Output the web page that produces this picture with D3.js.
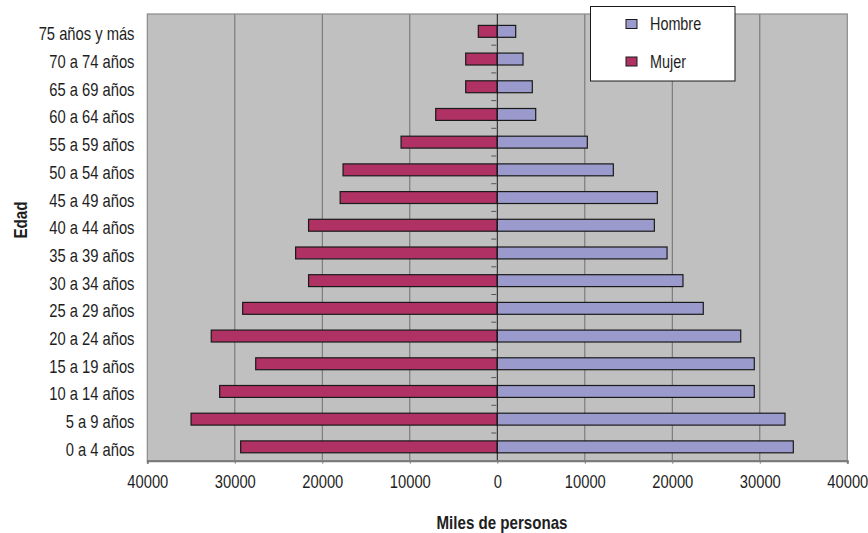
<!DOCTYPE html>
<html>
<head>
<meta charset="utf-8">
<script src="https://cdn.jsdelivr.net/npm/d3@7"></script>
<style>
  html, body { margin: 0; padding: 0; background: #fff; }
  svg text { font-family: "Liberation Sans", Arial, "Helvetica", sans-serif; fill: #1e1e1e; }
</style>
</head>
<body>
<svg id="chart" width="868" height="533"></svg>
<script>
// Age groups, bottom to top
const ageGroups = ["0 a 4 años", "5 a 9 años", "10 a 14 años", "15 a 19 años", "20 a 24 años",
  "25 a 29 años", "30 a 34 años", "35 a 39 años", "40 a 44 años", "45 a 49 años",
  "50 a 54 años", "55 a 59 años", "60 a 64 años", "65 a 69 años", "70 a 74 años", "75 años y más"];

// Population in thousands
const hombre = [33830, 32880, 29370, 29370, 27820, 23540, 21220, 19400, 17950, 18290,
  13260, 10290, 4390, 4000, 2940, 2100];
const mujer = [29330, 35000, 31730, 27610, 32690, 29100, 21570, 23050, 21570, 17960,
  17630, 11000, 7040, 3610, 3610, 2170];

const xTicks = [-40000, -30000, -20000, -10000, 0, 10000, 20000, 30000, 40000];
const seriesNames = ["Hombre", "Mujer"];
const seriesColors = ["#9a9acc", "#b03264"];

// Horizontal squeeze giving the narrow typeface look
const NARROW = 0.82;

const svg = d3.select("#chart");

const plot = { left: 147.3, right: 847.3, top: 14, bottom: 460.7 };

const x = d3.scaleLinear().domain([-40000, 40000]).range([plot.left, plot.right]);
const y = d3.scaleBand().domain(ageGroups).range([plot.bottom, 17.5])
  .paddingInner(0.57).paddingOuter(0.285);

// Plot background
svg.append("rect")
  .attr("x", plot.left).attr("y", plot.top)
  .attr("width", plot.right - plot.left).attr("height", plot.bottom - plot.top)
  .attr("fill", "#c0c0c0");

// Vertical gridlines
svg.append("g").selectAll("line")
  .data(xTicks.filter(v => Math.abs(v) !== 40000 && v !== 0))
  .join("line")
  .attr("x1", d => x(d)).attr("x2", d => x(d))
  .attr("y1", plot.top).attr("y2", plot.bottom)
  .attr("stroke", "#6e6e6e").attr("stroke-width", 1);

// Plot border
svg.append("rect")
  .attr("x", plot.left).attr("y", plot.top)
  .attr("width", plot.right - plot.left).attr("height", plot.bottom - plot.top)
  .attr("fill", "none").attr("stroke", "#8a8a8a").attr("stroke-width", 1.2);

// Bars: women to the left of zero, men to the right
const bars = svg.append("g");
bars.selectAll("rect.mujer")
  .data(ageGroups)
  .join("rect")
  .attr("class", "mujer")
  .attr("x", (d, i) => x(-mujer[i]))
  .attr("y", d => y(d))
  .attr("width", (d, i) => x(0) - x(-mujer[i]))
  .attr("height", y.bandwidth())
  .attr("fill", seriesColors[1])
  .attr("stroke", "#1a1a1a").attr("stroke-width", 1.2);

bars.selectAll("rect.hombre")
  .data(ageGroups)
  .join("rect")
  .attr("class", "hombre")
  .attr("x", x(0))
  .attr("y", d => y(d))
  .attr("width", (d, i) => x(hombre[i]) - x(0))
  .attr("height", y.bandwidth())
  .attr("fill", seriesColors[0])
  .attr("stroke", "#1a1a1a").attr("stroke-width", 1.2);

// Category axis at zero with short ticks between groups
const catAxis = svg.append("g");
catAxis.append("line")
  .attr("x1", x(0)).attr("x2", x(0))
  .attr("y1", plot.top).attr("y2", plot.bottom)
  .attr("stroke", "#1a1a1a").attr("stroke-width", 1);
catAxis.selectAll("line.tk")
  .data(d3.range(1, ageGroups.length))
  .join("line")
  .attr("class", "tk")
  .attr("x1", x(0) - 6).attr("x2", x(0) - 1)
  .attr("y1", i => y(ageGroups[i]) + y.bandwidth() + (y.step() - y.bandwidth()) / 2)
  .attr("y2", i => y(ageGroups[i]) + y.bandwidth() + (y.step() - y.bandwidth()) / 2)
  .attr("stroke", "#555").attr("stroke-width", 1);

// Category labels on the left
svg.append("g").selectAll("text")
  .data(ageGroups)
  .join("text")
  .attr("transform", d => `translate(134.5,${y(d) + y.bandwidth() / 2 + 2.5}) scale(${NARROW},1)`)
  .attr("dy", "0.36em")
  .attr("text-anchor", "end")
  .attr("font-size", 18)
  .text(d => d);

// Value axis
const xAxis = d3.axisBottom(x)
  .tickValues(xTicks)
  .tickFormat(d => String(Math.abs(d)))
  .tickSize(3)
  .tickPadding(12);
const gx = svg.append("g")
  .attr("transform", `translate(0,${plot.bottom})`)
  .call(xAxis);
gx.attr("font-family", null);
gx.select(".domain").attr("stroke", "#7a7a7a").attr("stroke-width", 2);
gx.selectAll(".tick line").attr("stroke", "#7a7a7a");
gx.selectAll(".tick text")
  .attr("font-size", 18).attr("fill", "#1e1e1e")
  .attr("transform", `scale(${NARROW},1)`);

// Axis titles
svg.append("text")
  .attr("transform", `translate(502,529) scale(0.84,1)`)
  .attr("text-anchor", "middle")
  .attr("font-size", 18).attr("font-weight", "bold")
  .text("Miles de personas");

svg.append("text")
  .attr("transform", `translate(27,220) rotate(-90) scale(0.84,1)`)
  .attr("text-anchor", "middle")
  .attr("font-size", 18).attr("font-weight", "bold")
  .text("Edad");

// Legend
const legend = svg.append("g");
legend.append("rect")
  .attr("x", 590.5).attr("y", 6.5).attr("width", 144.5).attr("height", 74.5)
  .attr("fill", "#fff").attr("stroke", "#1a1a1a").attr("stroke-width", 1);
const items = legend.selectAll("g.item")
  .data(seriesNames)
  .join("g")
  .attr("class", "item")
  .attr("transform", (d, i) => `translate(0,${24 + i * 37.5})`);
items.append("rect")
  .attr("x", 626).attr("y", -4.5).attr("width", 11).attr("height", 9)
  .attr("fill", (d, i) => seriesColors[i])
  .attr("stroke", "#1a1a1a").attr("stroke-width", 1);
items.append("text")
  .attr("transform", `translate(650,0) scale(0.8,1)`)
  .attr("dy", "0.36em")
  .attr("font-size", 18)
  .text(d => d);
</script>
</body>
</html>
